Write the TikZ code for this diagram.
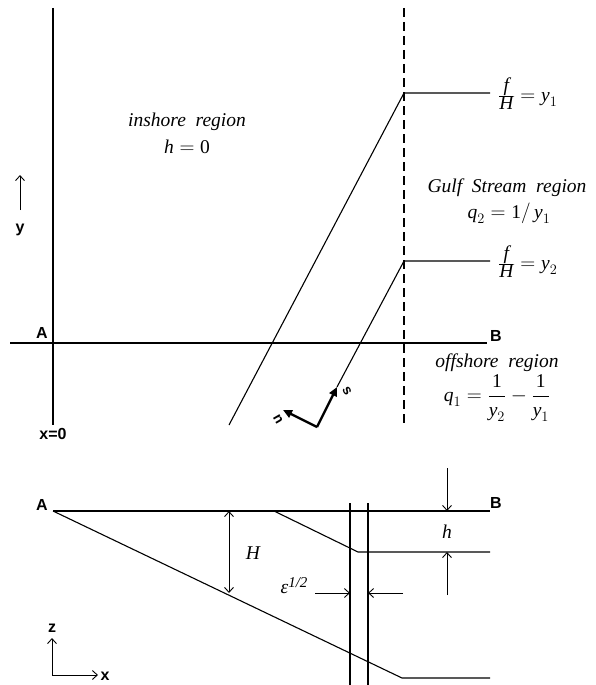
\documentclass[tikz,border=0pt]{standalone}
\usepackage{fontspec}
\setmainfont{Liberation Serif}
\newfontfamily\lblfont{Liberation Sans}
\usetikzlibrary{arrows.meta}
\tikzset{
 ln/.style={line width=1.1pt},
 dimarrow/.style={line width=0.9pt,-{Straight Barb[length=5pt,width=9pt]}},
 dimboth/.style={line width=0.9pt,{Straight Barb[length=5pt,width=9pt]}-{Straight Barb[length=5pt,width=9pt]}},
 lbl/.style={font=\lblfont\bfseries\fontsize{16}{16}\selectfont, inner sep=0pt},
 smlbl/.style={font=\lblfont\bfseries\fontsize{14}{14}\selectfont, inner sep=0pt},
 txt/.style={font=\itshape\fontsize{19.5}{22}\selectfont, inner sep=0pt},
 mth/.style={font=\fontsize{19.5}{22}\selectfont, inner sep=0pt},
 vecarrow/.style={line width=2.4pt,-{Triangle[length=9pt,width=8pt]}},
 dashln/.style={line width=1.1pt, dash pattern=on 9pt off 5pt},
}
\begin{document}
\begin{tikzpicture}[x=1pt,y=-1pt]
\useasboundingbox (0,0) rectangle (595,685);
% ---------- top panel ----------
\coordinate (xtop) at (53,8);
\coordinate (xbot) at (53,425);
\coordinate (ABl) at (10,343);
\coordinate (ABr) at (487,343);
\draw[ln] (xtop) -- (xbot);
\draw[ln] (ABl) -- (ABr);
\node[lbl] (A1) at (42,333) {A};
\node[lbl] (B1) at (496,336) {B};
\node[lbl] (x0) at (53,434) {x=0};
\coordinate (yb) at (20,210);
\coordinate (yt) at (20,175);
\draw[dimarrow] (yb) -- (yt);
\node[lbl] (ylab) at (20,230) {y};
\node[txt] (insh) at (187,122) {inshore\ \ region};
\node[mth] (h0) at (187,147) {$\textit{h} = \textup{0}$};
% dashed line
\coordinate (dtop) at (404,8);
\coordinate (dbot) at (404,425);
\draw[dashln] (dtop) -- (dbot);
% upper contour
\coordinate (u1) at (229,425);
\coordinate (u2) at (404,93);
\coordinate (u3) at (490,93);
\draw[ln] (u1) -- (u2) -- (u3);
\node[mth, anchor=west] (fy1) at (498,94) {$\frac{\textit{f}}{\textit{H}} = \textit{y}_{1}$};
% lower contour
\coordinate (o0) at (317,427);
\coordinate (l1) at (337,387);
\coordinate (l2) at (404,261);
\coordinate (l3) at (490,261);
\draw[ln] (l1) -- (l2) -- (l3);
\node[mth, anchor=west] (fy2) at (498,262) {$\frac{\textit{f}}{\textit{H}} = \textit{y}_{2}$};
\node[txt] (gs) at (507,188) {Gulf\ \ Stream\ \ region};
\node[mth] (q2) at (509,213) {$\textit{q}_{2} = \textup{1}/\,\textit{y}_{1}$};
\node[txt] (off) at (497,363) {offshore\ \ region};
\node[mth] (q1) at (497,398) {$\displaystyle\textit{q}_{1} = \frac{\textup{1}}{\textit{y}_{2}} - \frac{\textup{1}}{\textit{y}_{1}}$};
% n, s vectors
\coordinate (ntip) at (283,410);
\draw[vecarrow] (o0) -- (l1);
\draw[vecarrow] (o0) -- (ntip);
\node[smlbl, rotate=-60] (slab) at (347,391) {s};
\node[smlbl, rotate=-60] (nlab) at (278,419) {n};
% ---------- bottom panel ----------
\node[lbl] (A2) at (42,505) {A};
\node[lbl] (B2) at (496,503) {B};
\coordinate (s0) at (53,511);
\coordinate (s1) at (490,511);
\draw[ln] (s0) -- (s1);
\coordinate (b1) at (402,678);
\coordinate (b2) at (490,678);
\draw[ln] (s0) -- (b1) -- (b2);
\coordinate (h0a) at (274,511);
\coordinate (h1) at (358,552);
\coordinate (h2) at (490,552);
\draw[ln] (h0a) -- (h1) -- (h2);
\coordinate (v1t) at (350,503);
\coordinate (v1b) at (350,685);
\coordinate (v2t) at (368,503);
\coordinate (v2b) at (368,685);
\draw[ln] (v1t) -- (v1b);
\draw[ln] (v2t) -- (v2b);
% H
\coordinate (Ht) at (229,511);
\coordinate (Hb) at (229,593);
\draw[dimboth] (Ht) -- (Hb);
\node[mth] (Hlab) at (253,553) {$\textit{H}$};
% h
\coordinate (hd0) at (447,468);
\coordinate (hd1) at (447,511);
\coordinate (hu0) at (447,595);
\coordinate (hu1) at (447,552);
\draw[dimarrow] (hd0) -- (hd1);
\draw[dimarrow] (hu0) -- (hu1);
\node[mth] (hlab) at (447,532) {$\textit{h}$};
% epsilon
\node[txt] (eps) at (294,586) {ε\raisebox{6pt}{\fontsize{15}{15}\selectfont 1/2}};
\coordinate (e0) at (315,593);
\coordinate (e1) at (350,593);
\coordinate (e2) at (403,593);
\coordinate (e3) at (368,593);
\draw[dimarrow] (e0) -- (e1);
\draw[dimarrow] (e2) -- (e3);
% axes
\coordinate (ax0) at (52,675);
\coordinate (axz) at (52,638);
\coordinate (axx) at (98,675);
\draw[dimarrow] (ax0) -- (axz);
\draw[dimarrow] (ax0) -- (axx);
\node[lbl] (zlab) at (52,628) {z};
\node[lbl] (xlab) at (105,676) {x};
\end{tikzpicture}
\end{document}
